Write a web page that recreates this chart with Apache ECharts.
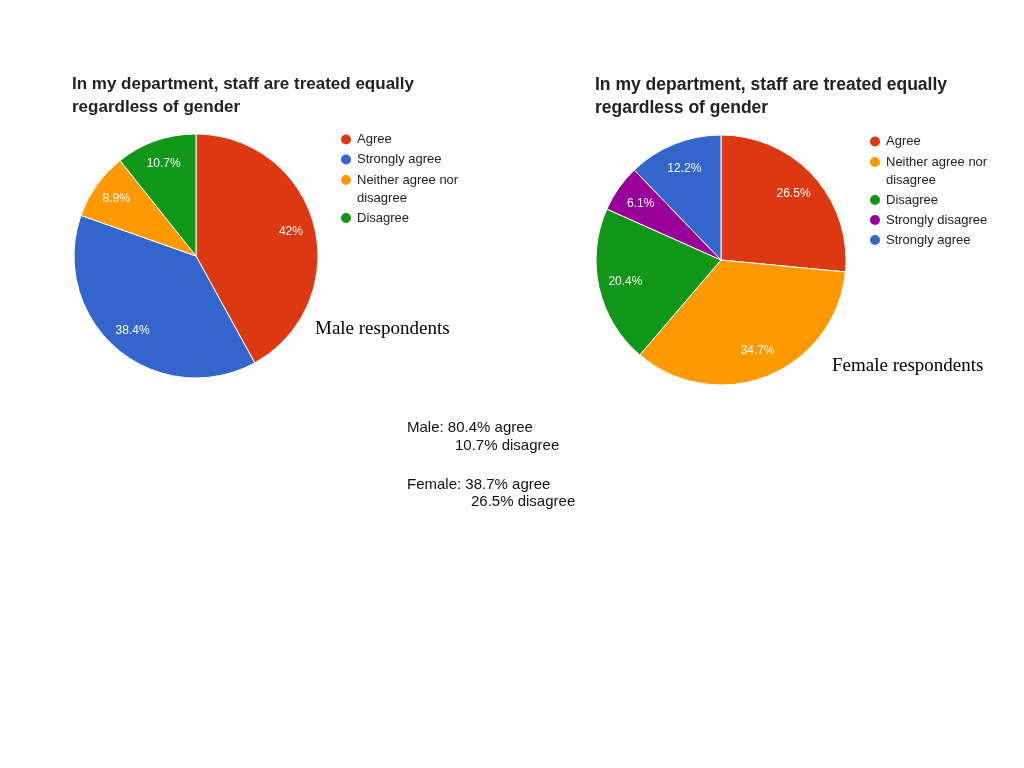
<!DOCTYPE html>
<html>
<head>
<meta charset="utf-8">
<script src="https://cdn.jsdelivr.net/npm/echarts@6/dist/echarts.min.js"></script>
<style>
  html, body { margin: 0; padding: 0; background: #fff; }
  #chart { width: 1024px; height: 768px; }
</style>
</head>
<body>
<div id="chart"></div>
<script>
// ---- Data ----
const chartTitle = 'In my department, staff are treated equally\nregardless of gender';
const maleCategories = ['Agree', 'Strongly agree', 'Neither agree nor disagree', 'Disagree'];
const maleValues = [42, 38.4, 8.9, 10.7];
const femaleCategories = ['Agree', 'Neither agree nor disagree', 'Disagree', 'Strongly disagree', 'Strongly agree'];
const femaleValues = [26.5, 34.7, 20.4, 6.1, 12.2];
const maleCaption = 'Male respondents';
const femaleCaption = 'Female respondents';
const summaryLines = ['Male: 80.4% agree', '10.7% disagree', 'Female: 38.7% agree', '26.5% disagree'];

// ---- Styles ----
const categoryColors = {
  'Agree': '#dc3912',
  'Strongly agree': '#3366cc',
  'Neither agree nor disagree': '#ff9900',
  'Disagree': '#109618',
  'Strongly disagree': '#990099'
};
const SANS = 'Arial, "Liberation Sans", Helvetica, sans-serif';
const SERIF = '"Times New Roman", "Liberation Serif", Times, serif';

function pieData(cats, vals) {
  return cats.map((c, i) => ({ name: c, value: vals[i], itemStyle: { color: categoryColors[c] } }));
}
function labelData(cats, vals) {
  return cats.map((c, i) => ({ name: c, value: vals[i] }));
}

const legendText = { fontSize: 13, color: '#222', fontFamily: SANS, lineHeight: 18 };
function legendFormatter(name) {
  return name === 'Neither agree nor disagree' ? '\nNeither agree nor\ndisagree' : name;
}
function mkLegend(left, top, data, gap) {
  return {
    orient: 'vertical', left: left, top: top, padding: 0,
    itemWidth: 12, itemHeight: 12, itemGap: gap, icon: 'circle',
    data: data, textStyle: legendText, formatter: legendFormatter,
    selectedMode: false
  };
}

const mainPie = (center, r, cats, vals) => ({
  type: 'pie', center: center, radius: [0, r],
  startAngle: 90, clockwise: true, avoidLabelOverlap: false,
  silent: true, animation: false,
  itemStyle: { borderColor: '#ffffff', borderWidth: 1 },
  label: { show: false }, labelLine: { show: false },
  data: pieData(cats, vals)
});
const labelPie = (center, r0, r, cats, vals) => ({
  type: 'pie', center: center, radius: [r0, r],
  startAngle: 90, clockwise: true, avoidLabelOverlap: false,
  silent: true, animation: false,
  itemStyle: { color: 'rgba(0,0,0,0)', borderWidth: 0 },
  label: {
    show: true, position: 'inside', color: '#ffffff',
    fontSize: 12, fontFamily: SANS,
    formatter: p => p.value + '%'
  },
  labelLine: { show: false },
  data: labelData(cats, vals)
});

const chart = echarts.init(document.getElementById('chart'), null, { renderer: 'canvas' });
chart.setOption({
  backgroundColor: '#ffffff',
  animation: false,
  title: [
    { text: chartTitle, left: 72, top: 73, padding: 0,
      textStyle: { fontSize: 17, fontWeight: 'bold', color: '#222', fontFamily: SANS, lineHeight: 23 } },
    { text: chartTitle, left: 595, top: 74, padding: 0,
      textStyle: { fontSize: 17.5, fontWeight: 'bold', color: '#222', fontFamily: SANS, lineHeight: 23 } }
  ],
  legend: [
    mkLegend(339, 130.5, ['Agree', 'Strongly agree'], 2),
    mkLegend(339, 153, ['Neither agree nor disagree'], 0),
    mkLegend(339, 209, ['Disagree'], 0),
    mkLegend(868, 132.5, ['Agree'], 0),
    mkLegend(868, 135, ['Neither agree nor disagree'], 0),
    mkLegend(868, 191, ['Disagree', 'Strongly disagree', 'Strongly agree'], 2)
  ],
  series: [
    mainPie([196, 256], 122, maleCategories, maleValues),
    mainPie([721, 260], 125, femaleCategories, femaleValues),
    labelPie([196, 256], 68, 122, maleCategories, maleValues),
    labelPie([721, 260], 65, 125, femaleCategories, femaleValues)
  ],
  graphic: [
    { type: 'text', left: 315, top: 320, silent: true,
      style: { text: maleCaption, font: '19px ' + SERIF, fill: '#000' } },
    { type: 'text', left: 832, top: 357, silent: true,
      style: { text: femaleCaption, font: '19px ' + SERIF, fill: '#000' } },
    { type: 'text', left: 407, top: 420, silent: true,
      style: { text: summaryLines[0], font: '15px ' + SANS, fill: '#111' } },
    { type: 'text', left: 455, top: 438, silent: true,
      style: { text: summaryLines[1], font: '15px ' + SANS, fill: '#111' } },
    { type: 'text', left: 407, top: 477, silent: true,
      style: { text: summaryLines[2], font: '15px ' + SANS, fill: '#111' } },
    { type: 'text', left: 471, top: 494, silent: true,
      style: { text: summaryLines[3], font: '15px ' + SANS, fill: '#111' } }
  ]
});
</script>
</body>
</html>
